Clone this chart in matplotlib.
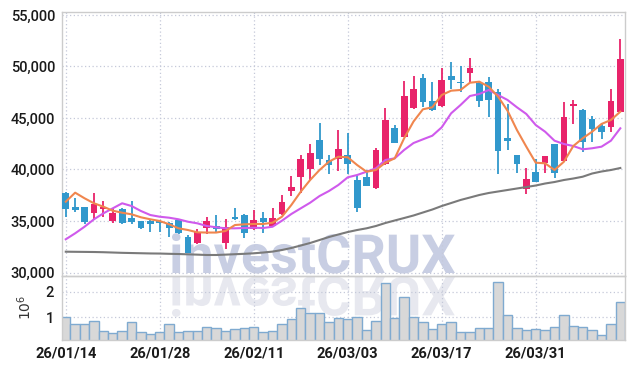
import matplotlib
matplotlib.use('Agg')
import matplotlib.pyplot as plt
import numpy as np
import pandas as pd
from matplotlib.textpath import TextPath
from matplotlib.font_manager import FontProperties
from matplotlib.patches import PathPatch
from matplotlib.transforms import Affine2D
from matplotlib.ticker import FuncFormatter

plt.rcParams['font.family'] = ['Roboto', 'DejaVu Sans']

# 색상
c_up = '#E8236A'
c_down = '#3198CC'
c_ma5 = '#F0864E'
c_ma20 = '#CF5AEC'
c_ma120 = '#7A7A7A'

# 거래일 (한국장: 설연휴, 삼일절 대체휴일 제외)
holidays = ['2026-02-16', '2026-02-17', '2026-02-18', '2026-03-02']
dates = pd.bdate_range('2026-01-14', periods=60, freq='C', holidays=holidays)

# 시가 / 고가 / 저가 / 종가
open_ = [37750, 36390, 36390, 35745, 36135, 35030, 36165, 35320, 35000, 35000,
         35030, 34835, 35100, 33415, 32835, 34290, 34515, 32900, 35420, 35610,
         34225, 35260, 34515, 35680, 37940, 39300, 40050, 42865, 40920, 41020,
         41410, 38980, 39300, 38170, 40505, 44000, 43185, 45970, 48915, 46650,
         46165, 49080, 48525, 49340, 48370, 48525, 47555, 43090, 41410, 38075,
         39730, 40660, 42475, 40855, 46165, 45775, 44900, 44225, 44100, 45610]
high = [37815, 37200, 36390, 37690, 36970, 36230, 36230, 36970, 35000, 35100,
        35100, 34930, 35195, 33640, 34190, 35360, 35580, 35165, 36230, 35680,
        36070, 35900, 36230, 37525, 39370, 41410, 42445, 44485, 41410, 43835,
        43515, 39465, 39950, 42090, 46000, 44320, 48620, 49050, 49245, 48465,
        49885, 50465, 50050, 50795, 48500, 49010, 47785, 46330, 41410, 40115,
        40990, 41310, 42475, 46580, 46750, 45875, 45225, 44545, 47785, 52640]
low = [35420, 35900, 34710, 35165, 35360, 34780, 34680, 34680, 34270, 33960,
       33960, 33475, 33710, 31890, 32815, 33710, 33865, 32280, 35140, 33320,
       34175, 33805, 34450, 35630, 37425, 37750, 38980, 40435, 39560, 39850,
       39560, 35845, 38350, 38150, 40485, 42570, 43155, 45845, 46040, 45725,
       46115, 47785, 47555, 48430, 46040, 45065, 39560, 41890, 39630, 37620,
       38785, 39630, 39145, 40825, 44420, 41730, 42700, 42930, 43670, 45580]
close = [36135, 36070, 34930, 36650, 36390, 35805, 34835, 34870, 34350, 34680,
         34780, 34350, 33865, 31925, 33900, 35000, 34255, 34390, 35190, 33865,
         35100, 34930, 35260, 36870, 38330, 41020, 41570, 41020, 40435, 41990,
         40535, 36290, 38425, 41890, 44805, 42600, 47135, 47815, 46580, 45775,
         48690, 48690, 48370, 49825, 46680, 46750, 41795, 42800, 40505, 39045,
         38815, 41310, 39630, 45065, 46360, 42700, 43930, 43670, 46650, 50700]

# 이동평균선
ma5 = [36875, 37750, 37205, 36720, 36390, 36000, 35805, 35650, 35360, 35165,
       35000, 34680, 34290, 34125, 33900, 33880, 33880, 34030, 34610, 34680,
       34710, 34710, 34835, 35415, 36555, 37845, 38980, 39950, 40755, 41240,
       41185, 40435, 39785, 39950, 40660, 41085, 43030, 44660, 45845, 46040,
       47230, 47650, 47720, 48425, 48525, 48040, 47070, 45710, 43835, 42215,
       40660, 40600, 39950, 40755, 42280, 43030, 43670, 44420, 44805, 45610]
ma20 = [33225, 33805, 34445, 35165, 35745, 36230, 36720, 36455, 35970, 35580,
        35415, 35320, 35165, 34930, 34775, 34515, 34390, 34290, 34290, 34320,
        34350, 34320, 34445, 35030, 35680, 36230, 36775, 37425, 37910, 38495,
        39240, 39465, 39785, 40115, 40920, 41085, 41895, 42570, 42930, 43280,
        44095, 45455, 46260, 47135, 47330, 47720, 47230, 46750, 46040, 45390,
        44320, 43670, 42795, 42475, 42280, 41960, 42060, 42215, 42795, 44000]
ma120 = [32020, 32010, 32000, 31990, 31970, 31940, 31910, 31890, 31870, 31850,
         31840, 31815, 31795, 31765, 31735, 31700, 31700, 31735, 31775, 31815,
         31865, 31940, 32030, 32185, 32380, 32620, 32865, 33155, 33445, 33690,
         33930, 34125, 34290, 34515, 34805, 35050, 35290, 35535, 35825, 36115,
         36455, 36745, 37040, 37280, 37525, 37720, 37865, 38010, 38155, 38300,
         38445, 38640, 38785, 38980, 39125, 39300, 39610, 39805, 39950, 40145]

# 거래량
volume = [1020000, 730000, 730000, 870000, 480000, 375000, 480000, 830000, 440000, 340000,
          440000, 730000, 440000, 480000, 480000, 630000, 570000, 480000, 520000, 560000,
          630000, 410000, 480000, 730000, 920000, 1350000, 1160000, 1160000, 800000, 960000,
          920000, 1000000, 490000, 870000, 2330000, 960000, 1780000, 1020000, 800000, 530000,
          730000, 800000, 410000, 410000, 570000, 570000, 2390000, 1090000, 570000, 490000,
          530000, 490000, 610000, 1090000, 650000, 610000, 490000, 300000, 730000, 1590000]

x = np.arange(len(dates))
o = np.array(open_); c = np.array(close); h = np.array(high); l = np.array(low)
up = c >= o
colors = np.where(up, c_up, c_down)

fig = plt.figure(figsize=(6.34, 3.69), dpi=100)
fig.set_facecolor('white')
ax = fig.add_axes([62/634, 1-275.7/369, (625-62)/634, (275.7-12)/369])
axv = fig.add_axes([62/634, 1-340/369, (625-62)/634, (340-275.7)/369])
for a in (ax, axv):
    a.set_facecolor('none')
    for s in a.spines.values():
        s.set_color('#CCCCCC')
        s.set_linewidth(1)
    a.grid(True, color='#C5C9D9', linestyle=(0, (1, 2)), linewidth=0.9)
    a.set_axisbelow(True)
    a.tick_params(length=0, colors='#1A1A1A')
    a.set_xlim(-0.4, 59.5)

# 캔들
ax.vlines(x, l, h, color=colors, linewidth=1.3, zorder=2)
ax.bar(x, np.maximum(np.abs(c - o), 60), bottom=np.minimum(o, c), width=0.72,
       color=colors, linewidth=0, zorder=3)
ax.plot(x, ma120, color=c_ma120, linewidth=1.5, zorder=4)
ax.plot(x, ma20, color=c_ma20, linewidth=1.5, zorder=4)
ax.plot(x, ma5, color=c_ma5, linewidth=1.5, zorder=4)

ax.set_ylim(29690, 55290)
ax.set_yticks([30000, 35000, 40000, 45000, 50000, 55000])
ax.yaxis.set_major_formatter(FuncFormatter(lambda v, p: '{:,.0f}'.format(v)))
ax.set_xticks(x[::10])
ax.set_xticklabels([])
for t in ax.get_yticklabels():
    t.set_fontsize(10.5)
    t.set_fontweight('medium')

# 거래량
axv.bar(x, np.array(volume) / 1e6, width=1.0, color='#D8D8D8', edgecolor='#7FAAD0',
        linewidth=1.0, zorder=2)
axv.set_ylim(0.11, 2.62)
axv.set_yticks([1, 2])
axv.set_xticks(x[::10])
axv.set_xticklabels([d.strftime('%y/%m/%d') for d in dates[::10]], fontsize=10.5,
                    fontweight='bold')
for t in axv.get_yticklabels():
    t.set_fontsize(10.5)
    t.set_fontweight('medium')
axv.set_ylabel(r'$10^6$', fontsize=10, color='#333333', labelpad=8)
axv.tick_params(axis='x', pad=5)
axv.tick_params(axis='y', pad=6)
ax.tick_params(axis='y', pad=5)

# 워터마크 + 반사
fp = FontProperties(family=['Roboto', 'DejaVu Sans'], weight='bold')
tp = TextPath((0, 0), 'investCRUX', size=1, prop=fp)
ext = tp.get_extents()
sc = (455 - 172) / ext.width
main_tr = Affine2D().translate(-ext.x0, 0).scale(sc / 100).translate(172 / 100, (369 - 273) / 100)
refl_tr = Affine2D().translate(-ext.x0, 0).scale(sc / 100, -sc / 100).translate(172 / 100, (369 - 277) / 100)
fig.add_artist(PathPatch(tp, transform=main_tr + fig.dpi_scale_trans,
                         facecolor='#C8CEE3', edgecolor='none', zorder=-2))
fig.add_artist(PathPatch(tp, transform=refl_tr + fig.dpi_scale_trans,
                         facecolor='#E7E8EF', edgecolor='none', zorder=-2))

plt.savefig('out.png', dpi=100, facecolor='white')
